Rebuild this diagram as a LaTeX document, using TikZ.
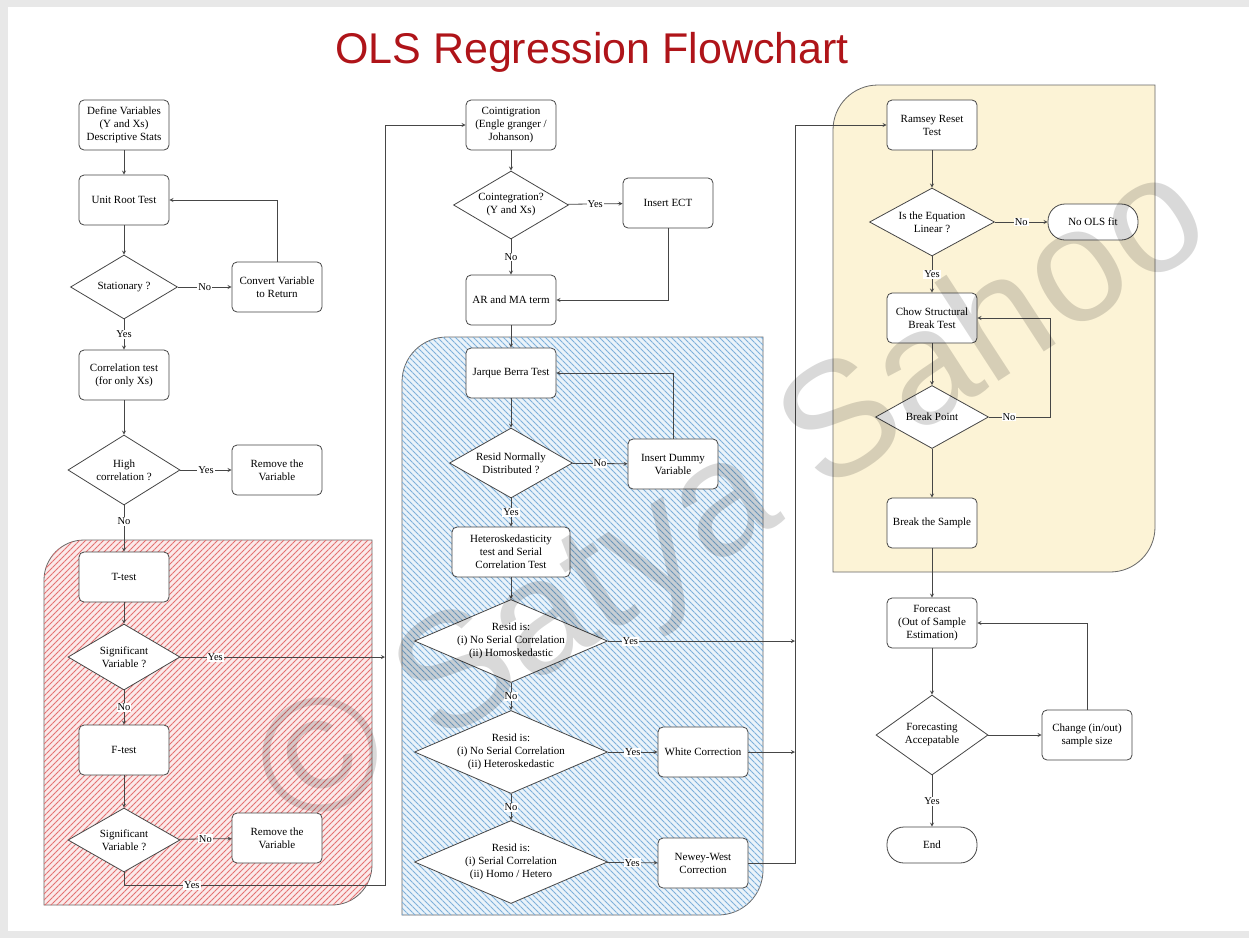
\documentclass[tikz,border=0pt]{standalone}
\usepackage{fontspec}
\setmainfont{Liberation Serif}
\setsansfont{Liberation Sans}
\usetikzlibrary{shapes.geometric,patterns.meta}
\definecolor{titlered}{RGB}{175,20,25}
\definecolor{edgegray}{RGB}{70,70,70}
\definecolor{hatchred}{RGB}{228,112,112}
\definecolor{hatchblue}{RGB}{125,175,218}
\definecolor{palered}{RGB}{251,234,234}
\definecolor{paleblue}{RGB}{234,243,250}
\definecolor{paleyellow}{RGB}{252,243,214}

\begin{document}
\begin{tikzpicture}[x=1pt, y=-1pt,
    stepbox/.style={rectangle, rounded corners=5pt, draw=edgegray, fill=white, line width=.8pt,
        minimum width=90pt, minimum height=50pt, inner sep=3pt, align=center,
        font=\fontsize{11}{13}\selectfont},
    decide/.style={diamond, draw=edgegray, fill=white, line width=.8pt, inner sep=0pt,
        aspect=1.8, align=center, font=\fontsize{11}{13}\selectfont},
    term/.style={rectangle, rounded corners=17pt, draw=edgegray, fill=white, line width=.8pt,
        minimum width=90pt, minimum height=36pt, font=\fontsize{11}{13}\selectfont},
    lbl/.style={fill=white, inner sep=1pt, font=\fontsize{10.5}{12}\selectfont},
    flow/.style={draw=edgegray, line width=.8pt, ->},
    region/.style={draw=black!60, line width=.8pt},
    >=stealth
]
\useasboundingbox (0,0) rectangle (1249,938);
\fill[black!9] (0,0) rectangle (1249,938);
\fill[white] (8,7) rectangle (1249,931);

% shaded groups
\draw[region, fill=palered, postaction={pattern={Lines[angle=45,distance=4.2426pt,line width=.8pt]}, pattern color=hatchred}]
    (44,905) -- (44,580) .. controls (44,558) and (62,540) .. (84,540) -- (372,540)
    -- (372,865) .. controls (372,887) and (354,905) .. (332,905) -- cycle;
\draw[region, fill=paleblue, postaction={pattern={Lines[angle=-45,distance=4.2426pt,line width=.8pt]}, pattern color=hatchblue}]
    (402,915) -- (402,382) .. controls (402,357) and (422,337) .. (447,337) -- (763,337)
    -- (763,870) .. controls (763,895) and (743,915) .. (718,915) -- cycle;
\draw[region, fill=paleyellow]
    (833,572) -- (833,130) .. controls (833,105) and (853,85) .. (878,85) -- (1155,85)
    -- (1155,527) .. controls (1155,552) and (1135,572) .. (1110,572) -- cycle;

\node[font=\sffamily\fontsize{43}{45}\selectfont, text=titlered] (title) at (592,52) {OLS Regression Flowchart};

% first column
\node[stepbox] (def) at (124,125) {Define Variables\\(Y and Xs)\\Descriptive Stats};
\node[stepbox] (unit) at (124,200) {Unit Root Test};
\node[decide, minimum width=107pt, minimum height=64pt] (stat) at (124,287) {Stationary ?};
\node[stepbox] (conv) at (277,287) {Convert Variable\\to Return};
\node[stepbox] (corr) at (124,375) {Correlation test\\(for only Xs)};
\node[decide, minimum width=112pt, minimum height=70pt] (high) at (124,470) {High\\correlation ?};
\node[stepbox] (remvA) at (277,470) {Remove the\\Variable};
\node[stepbox] (ttest) at (124,577) {T-test};
\node[decide, minimum width=112pt, minimum height=66pt] (sigA) at (124,657) {Significant\\Variable ?};
\node[stepbox] (ftest) at (124,750) {F-test};
\node[decide, minimum width=112pt, minimum height=64pt] (sigB) at (124,840) {Significant\\Variable ?};
\node[stepbox] (remvB) at (277,838) {Remove the\\Variable};

% second column
\node[stepbox] (coint) at (511,125) {Cointigration\\(Engle granger /\\Johanson)};
\node[decide, minimum width=115pt, minimum height=68pt] (cointq) at (511,205) {Cointegration?\\(Y and Xs)};
\node[stepbox] (ect) at (668,203) {Insert ECT};
\node[stepbox] (arma) at (511,300) {AR and MA term};
\node[stepbox] (jb) at (511,373) {Jarque Berra Test};
\node[decide, minimum width=123pt, minimum height=70pt] (norm) at (511,463) {Resid Normally\\Distributed ?};
\node[stepbox] (dummy) at (673,464) {Insert Dummy\\Variable};
\node[stepbox, minimum width=118pt] (hetero) at (511,552) {Heteroskedasticity\\test and Serial\\Correlation Test};
\node[decide, aspect=2.3, minimum width=193pt, minimum height=83pt] (resA) at (511,641) {Resid is:\\(i) No Serial Correlation\\(ii) Homoskedastic};
\node[decide, aspect=2.3, minimum width=193pt, minimum height=83pt] (resB) at (511,752) {Resid is:\\(i) No Serial Correlation\\(ii) Heteroskedastic};
\node[stepbox] (white) at (703,752) {White Correction};
\node[decide, aspect=2.3, minimum width=193pt, minimum height=83pt] (resC) at (511,862) {Resid is:\\(i) Serial Correlation\\(ii) Homo / Hetero};
\node[stepbox] (nw) at (703,863) {Newey-West\\Correction};

% third column
\node[stepbox] (ramsey) at (932,125) {Ramsey Reset\\Test};
\node[decide, minimum width=125pt, minimum height=68pt] (lin) at (932,222) {Is the Equation\\Linear ?};
\node[term] (nools) at (1093,222) {No OLS fit};
\node[stepbox] (chow) at (932,318) {Chow Structural\\Break Test};
\node[decide, minimum width=113pt, minimum height=63pt] (brk) at (932,417) {Break Point};
\node[stepbox] (bsamp) at (932,523) {Break the Sample};
\node[stepbox] (fore) at (932,623) {Forecast\\(Out of Sample\\Estimation)};
\node[decide, aspect=1.4, minimum width=112pt, minimum height=80pt] (facc) at (932,735) {Forecasting\\Accepatable};
\node[stepbox] (chg) at (1087,735) {Change (in/out)\\sample size};
\node[term] (end) at (932,845) {End};

\coordinate (railL) at (385,885);
\coordinate (railLmid) at (385,657);
\coordinate (railR) at (795,863);
\coordinate (railRtop) at (795,641);
\coordinate (railRmid) at (795,752);
\coordinate (loopB) at (1050,417);

\draw[flow] (def) -- (unit);
\draw[flow] (unit) -- (stat);
\draw[flow] (stat) -- node[lbl] {No} (conv);
\draw[flow] (conv.north) |- (unit.east);
\draw[flow] (stat) -- node[lbl] {Yes} (corr);
\draw[flow] (corr) -- (high);
\draw[flow] (high) -- node[lbl] {Yes} (remvA);
\draw[flow] (high) -- node[lbl, pos=.35] {No} (ttest);
\draw[flow] (ttest) -- (sigA);
\draw[flow] (sigA) -- node[lbl, pos=.17] {Yes} (railLmid);
\draw[flow] (sigA) -- node[lbl] {No} (ftest);
\draw[flow] (ftest) -- (sigB);
\draw[flow] (sigB) -- node[lbl] {No} (remvB);
\draw[flow] (sigB.south) |- node[lbl, pos=.63] {Yes} (railL) |- (coint.west);

\draw[flow] (coint) -- (cointq);
\draw[flow] (cointq) -- node[lbl] {Yes} (ect);
\draw[flow] (cointq) -- node[lbl] {No} (arma);
\draw[flow] (ect.south) |- (arma.east);
\draw[flow] (arma) -- (jb);
\draw[flow] (jb) -- (norm);
\draw[flow] (norm) -- node[lbl] {No} (dummy);
\draw[flow] (dummy.north) |- (jb.east);
\draw[flow] (norm) -- node[lbl] {Yes} (hetero);
\draw[flow] (hetero) -- (resA);
\draw[flow] (resA) -- node[lbl, pos=.12] {Yes} (railRtop);
\draw[flow] (resA) -- node[lbl] {No} (resB);
\draw[flow] (resB) -- node[lbl] {Yes} (white);
\draw[flow] (white) -- (railRmid);
\draw[flow] (resB) -- node[lbl] {No} (resC);
\draw[flow] (resC) -- node[lbl] {Yes} (nw);
\draw[flow] (nw.east) -- (railR) |- (ramsey.west);

\draw[flow] (ramsey) -- (lin);
\draw[flow] (lin) -- node[lbl] {No} (nools);
\draw[flow] (lin) -- node[lbl] {Yes} (chow);
\draw[flow] (chow) -- (brk);
\draw[flow] (brk) -- node[lbl, pos=.33] {No} (loopB) |- (chow.east);
\draw[flow] (brk) -- (bsamp);
\draw[flow] (bsamp) -- (fore);
\draw[flow] (fore) -- (facc);
\draw[flow] (facc) -- (chg);
\draw[flow] (chg.north) |- (fore.east);
\draw[flow] (facc) -- node[lbl] {Yes} (end);

\node[rotate=33, text=black, opacity=.15, font=\sffamily\fontsize{162}{162}\selectfont] (mark) at (736,502) {© Satya Sahoo};
\end{tikzpicture}
\end{document}
